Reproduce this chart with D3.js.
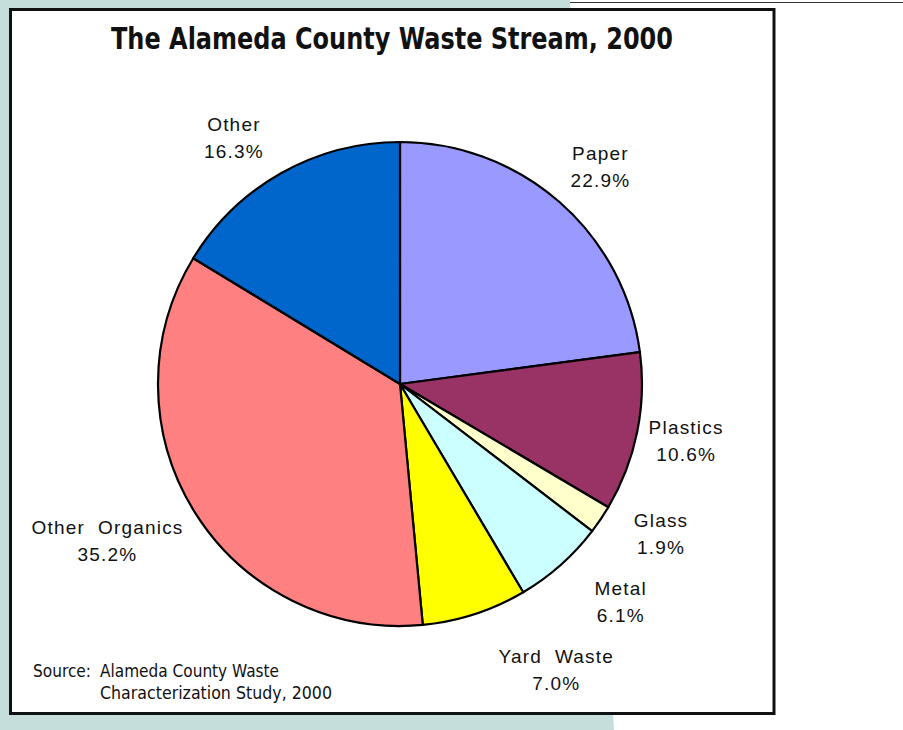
<!DOCTYPE html>
<html>
<head>
<meta charset="utf-8">
<script src="https://cdn.jsdelivr.net/npm/d3@7"></script>
<style>
  body { margin: 0; background: #fff; }
  svg { display: block; }
  .lbl { font-family: "Liberation Sans", Arial, sans-serif; font-size: 19px; letter-spacing: 1.2px; fill: #111; white-space: pre; }
</style>
</head>
<body>
<svg></svg>
<script>
// Data
const categories = ["Paper", "Plastics", "Glass", "Metal", "Yard  Waste", "Other  Organics", "Other"];
const shares = [22.9, 10.6, 1.9, 6.1, 7.0, 35.2, 16.3];
const colors = ["#9999FF", "#993366", "#FFFFCC", "#CCFFFF", "#FFFF00", "#FF8080", "#0066CC"];
// small nudges so labels sit where Excel put them
const labelNudge = [[8, 9], [0, 5], [19, -7], [27, 6], [66, 14], [-45, 8], [-23, 15]];

const width = 903;
const height = 730;
const cx = 400, cy = 384, radius = 242;

const svg = d3.select("svg")
  .attr("width", width)
  .attr("height", height);

// slide background
svg.append("polygon")
  .attr("points", "0,0 570,0 614,730 0,730")
  .attr("fill", "#C6DEDB");

svg.append("line")
  .attr("x1", 570).attr("x2", width)
  .attr("y1", 2.5).attr("y2", 2.5)
  .attr("stroke", "#333")
  .attr("stroke-width", 1);

// chart frame
svg.append("rect")
  .attr("x", 10.5).attr("y", 9.5)
  .attr("width", 763.5).attr("height", 704)
  .attr("fill", "#fff")
  .attr("stroke", "#111")
  .attr("stroke-width", 3);

// Title
svg.append("text")
  .attr("x", 111)
  .attr("y", 49)
  .attr("font-family", "'Liberation Sans Narrow', 'DejaVu Sans Condensed', sans-serif")
  .attr("font-weight", "bold")
  .attr("font-size", 31)
  .attr("textLength", 562)
  .attr("lengthAdjust", "spacingAndGlyphs")
  .attr("fill", "#111")
  .text("The Alameda County Waste Stream, 2000");

// Pie
const pie = d3.pie().sort(null).value(d => d);
const arcs = pie(shares);

const arc = d3.arc().innerRadius(0).outerRadius(radius);
const labelArc = d3.arc().innerRadius(292).outerRadius(292);

const chart = svg.append("g")
  .attr("transform", `translate(${cx}, ${cy})`);

chart.selectAll(".slice")
  .data(arcs)
  .enter()
  .append("path")
  .attr("class", "slice")
  .attr("d", arc)
  .attr("fill", (d, i) => colors[i])
  .attr("stroke", "#000")
  .attr("stroke-width", 2.2)
  .attr("stroke-linejoin", "round");

// Labels
const labels = chart.selectAll(".lbl")
  .data(arcs)
  .enter()
  .append("text")
  .attr("class", "lbl")
  .attr("text-anchor", "middle")
  .attr("transform", (d, i) => {
    const [x, y] = labelArc.centroid(d);
    return `translate(${x + labelNudge[i][0]}, ${y + labelNudge[i][1]})`;
  });

labels.append("tspan")
  .attr("x", 0)
  .attr("y", -13)
  .text((d, i) => categories[i]);

labels.append("tspan")
  .attr("x", 0)
  .attr("y", 14)
  .text(d => d.data.toFixed(1) + "%");

// Source note
const src = svg.append("g")
  .attr("font-family", "'Liberation Sans Narrow', 'DejaVu Sans Condensed', sans-serif")
  .attr("font-size", 18)
  .attr("fill", "#111");

src.append("text")
  .attr("x", 33).attr("y", 677)
  .attr("textLength", 58).attr("lengthAdjust", "spacingAndGlyphs")
  .text("Source:");

src.append("text")
  .attr("x", 100).attr("y", 677)
  .attr("textLength", 179).attr("lengthAdjust", "spacingAndGlyphs")
  .text("Alameda County Waste");

src.append("text")
  .attr("x", 100).attr("y", 699)
  .attr("textLength", 232).attr("lengthAdjust", "spacingAndGlyphs")
  .text("Characterization Study, 2000");
</script>
</body>
</html>
